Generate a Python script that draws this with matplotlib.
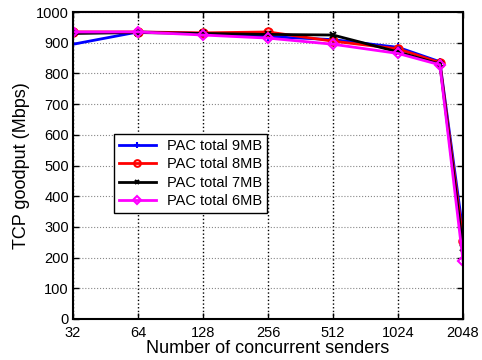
import matplotlib
matplotlib.use("Agg")
import matplotlib.pyplot as plt
import numpy as np

plt.rcParams['font.family'] = ['Liberation Sans', 'DejaVu Sans']

senders = [32, 64, 128, 256, 512, 1024, 1600, 2048]
xticks = [32, 64, 128, 256, 512, 1024, 2048]

pac_9mb = [895, 935, 930, 920, 910, 885, 838, 283]
pac_8mb = [935, 935, 932, 935, 905, 880, 835, 255]
pac_7mb = [930, 933, 930, 927, 925, 870, 830, 230]
pac_6mb = [935, 935, 925, 915, 895, 865, 828, 190]

fig = plt.figure(figsize=(4.82, 3.6), dpi=100)
ax = fig.add_axes([73/482, 1-319/360, 390/482, 307/360])

ax.plot(senders, pac_9mb, color="blue", marker="+", ms=6, mew=1.5, lw=2, label="PAC total 9MB")
ax.plot(senders, pac_8mb, color="red", marker="o", ms=6, mfc="none", mew=1.5, lw=2, label="PAC total 8MB")
ax.plot(senders, pac_7mb, color="black", marker="x", ms=4, mew=1.5, lw=2, label="PAC total 7MB")
ax.plot(senders, pac_6mb, color="magenta", marker="D", ms=5, mfc="none", mew=1.5, lw=2, label="PAC total 6MB")

ax.set_xscale("log", base=2)
ax.set_xlim(32, 2048)
ax.set_ylim(0, 1000)
ax.set_xticks(xticks)
ax.set_xticklabels([str(t) for t in xticks])
ax.minorticks_off()
ax.set_yticks(np.arange(0, 1001, 100))

ax.xaxis.grid(True, color="black", linestyle=":", lw=1.0)
ax.yaxis.grid(True, color="#888888", linestyle=":", lw=0.8)
ax.tick_params(direction="in", labelsize=10.5, length=4, width=1, top=True, right=True)
ax.tick_params(axis="x", pad=5)
ax.tick_params(axis="y", pad=3)
for s in ax.spines.values():
    s.set_linewidth(1.5)

ax.set_xlabel("Number of concurrent senders", fontsize=13, labelpad=0)
ax.set_ylabel("TCP goodput (Mbps)", fontsize=13)

leg = ax.legend(loc="upper left", bbox_to_anchor=(0.105, 0.603), borderaxespad=0,
                fontsize=10.5, fancybox=False, framealpha=1, edgecolor="black",
                borderpad=0.35, labelspacing=0.3, handlelength=2.5, markerscale=0.8)
leg.get_frame().set_linewidth(1.0)

fig.savefig("out.png", dpi=100)
